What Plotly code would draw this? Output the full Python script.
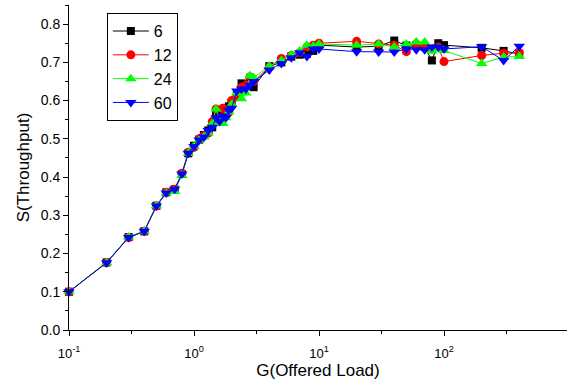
import plotly.graph_objects as go

G = [0.1, 0.2, 0.3, 0.4, 0.5, 0.6, 0.7, 0.8, 0.9, 1.0,
     1.1, 1.2, 1.3, 1.4, 1.5, 1.6, 1.7, 1.8, 1.9, 2.0,
     2.2, 2.4, 2.6, 2.8, 3.0, 4, 5, 6, 7, 8, 9, 10,
     20, 30, 40, 50, 60, 70, 80, 90, 100, 200, 300, 400]

S6 = [0.100, 0.177, 0.243, 0.258, 0.325, 0.360, 0.368, 0.408, 0.462, 0.482,
      0.498, 0.510, 0.522, 0.530, 0.562, 0.565, 0.570, 0.565, 0.585, 0.595,
      0.615, 0.645, 0.640, 0.650, 0.635, 0.690, 0.700, 0.715, 0.720, 0.722, 0.730, 0.745,
      0.740, 0.742, 0.757, 0.744, 0.745, 0.740, 0.705, 0.750, 0.745, 0.738, 0.730, 0.722]

S12 = [0.100, 0.176, 0.242, 0.258, 0.324, 0.360, 0.368, 0.410, 0.465, 0.478,
       0.500, 0.508, 0.515, 0.545, 0.578, 0.550, 0.580, 0.560, 0.570, 0.600,
       0.610, 0.635, 0.640, 0.662, 0.650, 0.688, 0.710, 0.718, 0.725, 0.740, 0.745, 0.750,
       0.755, 0.748, 0.745, 0.728, 0.748, 0.742, 0.735, 0.740, 0.702, 0.718, 0.724, 0.725]

S24 = [0.100, 0.176, 0.243, 0.259, 0.325, 0.358, 0.362, 0.405, 0.462, 0.480,
       0.497, 0.505, 0.515, 0.540, 0.578, 0.545, 0.540, 0.555, 0.570, 0.590,
       0.620, 0.605, 0.620, 0.665, 0.660, 0.690, 0.705, 0.720, 0.730, 0.745, 0.742, 0.748,
       0.745, 0.748, 0.740, 0.748, 0.753, 0.753, 0.730, 0.735, 0.731, 0.697, 0.714, 0.715]

S60 = [0.100, 0.176, 0.242, 0.258, 0.324, 0.358, 0.368, 0.408, 0.462, 0.480,
       0.497, 0.505, 0.522, 0.530, 0.555, 0.545, 0.560, 0.555, 0.575, 0.580,
       0.625, 0.630, 0.630, 0.640, 0.650, 0.680, 0.697, 0.712, 0.725, 0.715, 0.735, 0.735,
       0.728, 0.727, 0.727, 0.735, 0.733, 0.733, 0.740, 0.740, 0.735, 0.741, 0.705, 0.742]

series_names = ["6", "12", "24", "60"]
series_vals = [S6, S12, S24, S60]
colors = ["#000000", "#ff0000", "#00ff00", "#0000ff"]
symbols = ["square", "circle", "triangle-up", "triangle-down"]
sizes = [8, 9, 10, 10]

x_tickvals = [0.1, 1, 10, 100, 1000]
x_ticktext = ["10<sup>-1</sup>", "10<sup>0</sup>", "10<sup>1</sup>", "10<sup>2</sup>", "10<sup>3</sup>"]
x_minorvals = [0.316, 3.16, 31.6, 316]
y_tickvals = [0.0, 0.1, 0.2, 0.3, 0.4, 0.5, 0.6, 0.7, 0.8]

fig = go.Figure()
for name, vals, c, sym, sz in zip(series_names, series_vals, colors, symbols, sizes):
    fig.add_trace(go.Scatter(
        x=G, y=vals, name=name, mode="lines+markers",
        line=dict(color=c, width=1),
        marker=dict(symbol=sym, color=c, size=sz, line=dict(width=0)),
        cliponaxis=False,
    ))

font = "Liberation Sans, Arial, sans-serif"
fig.update_layout(
    width=567, height=382,
    margin=dict(l=69, r=0, t=5, b=52),
    paper_bgcolor="white", plot_bgcolor="white",
    font=dict(family=font, color="black", size=14),
    showlegend=True,
    legend=dict(
        x=0.076, y=0.975, xanchor="left", yanchor="top",
        bgcolor="white", bordercolor="black", borderwidth=1,
        font=dict(size=16, family=font),
        tracegroupgap=0, itemwidth=36,
    ),
    xaxis=dict(
        type="log", range=[-1, 2.984], automargin=False,
        showgrid=False, zeroline=False,
        showline=True, linecolor="black", linewidth=1,
        ticks="outside", ticklen=5, tickcolor="black",
        tickvals=x_tickvals, ticktext=x_ticktext,
        ticklabelstandoff=6,
        tickfont=dict(size=13),
        minor=dict(tickvals=x_minorvals, ticks="outside", ticklen=3, tickcolor="black", showgrid=False),
        title=dict(text="G(Offered Load)", font=dict(size=17), standoff=0),
    ),
    yaxis=dict(
        range=[0, 0.85], automargin=False,
        showgrid=False, zeroline=False,
        showline=True, linecolor="black", linewidth=1,
        ticks="outside", ticklen=5, tickcolor="black",
        tickvals=y_tickvals, ticktext=[f"{v:.1f}" for v in y_tickvals],
        tickfont=dict(size=14),
        minor=dict(dtick=0.05, ticks="outside", ticklen=3, tickcolor="black", showgrid=False),
        title=dict(text="S(Throughput)", font=dict(size=17), standoff=6),
    ),
)

fig.write_html("out.html", config={"displayModeBar": False},
               post_script="document.body.style.margin='0px';")
